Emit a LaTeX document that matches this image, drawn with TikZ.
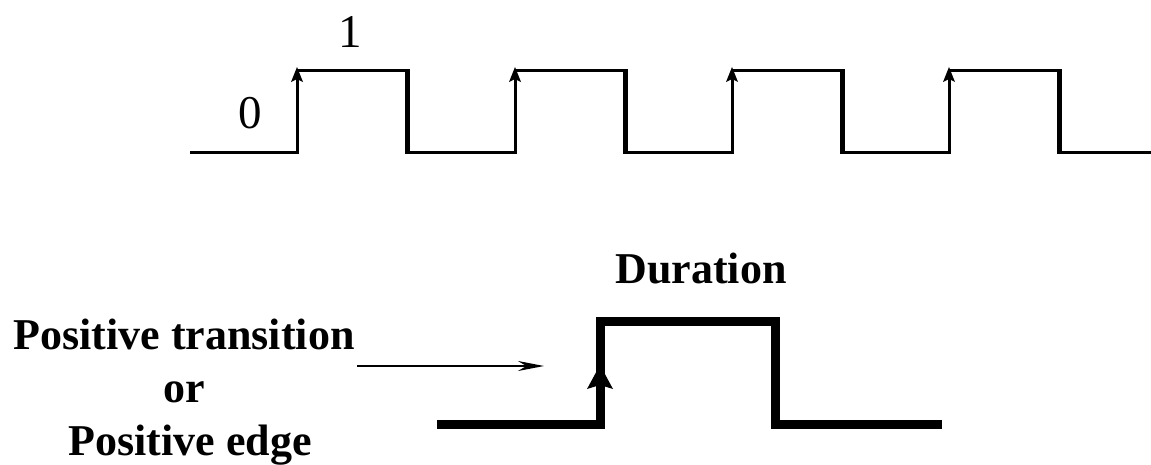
\documentclass[tikz,border=0pt]{standalone}
\usepackage{fontspec}
\setmainfont{Liberation Serif}
\usetikzlibrary{arrows.meta}
\begin{document}
\begin{tikzpicture}[x=1pt,y=-1pt,
  wave/.style={line width=3pt, line join=miter},
  fallline/.style={line width=5pt},
  headfill/.style={fill=black},
  bigwave/.style={line width=9pt, line join=miter},
  lbl/.style={font=\fontsize{47}{47}\selectfont, anchor=base, inner sep=0pt},
  blbl/.style={font=\fontsize{44}{44}\selectfont\bfseries, anchor=base, inner sep=0pt},
  pointer/.style={line width=2pt, -{Stealth[length=26pt,width=10pt]}}
]
\useasboundingbox (0,0) rectangle (1151,464);
% top pulse train
\draw[wave] (190,152) -- (297,152) -- (297,70) -- (407,70) -- (407,152)
  -- (515,152) -- (515,70) -- (625,70) -- (625,152)
  -- (732,152) -- (732,70) -- (842,70) -- (842,152)
  -- (949,152) -- (949,70) -- (1059,70) -- (1059,152) -- (1151,152);
\foreach \x in {407,625,842,1059} \draw[fallline] (\x,69) -- (\x,153.5);
\foreach \x in {297,515,732,949}
  \fill[headfill] (\x-6,82) -- (\x,67) -- (\x+6,82) -- (\x,79) -- cycle;
\node[lbl] (zero) at (250,128) {0};
\node[lbl] (one) at (350,47) {1};
% bottom single pulse
\draw[bigwave] (437,424) -- (600,424) -- (600,321) -- (775,321) -- (775,424) -- (942,424);
\fill[headfill] (587,389) -- (600,365) -- (613,389) -- (600,385) -- cycle;
\node[blbl] (duration) at (701,283) {Duration};
\node[blbl] (pt) at (184,349) {Positive transition};
\node[blbl] (or) at (184,402) {or};
\node[blbl] (pe) at (190,455) {Positive edge};
\coordinate (ptstart) at (357,366);
\coordinate (edgept) at (544,366);
\draw[pointer] (ptstart) -- (edgept);
\end{tikzpicture}
\end{document}
